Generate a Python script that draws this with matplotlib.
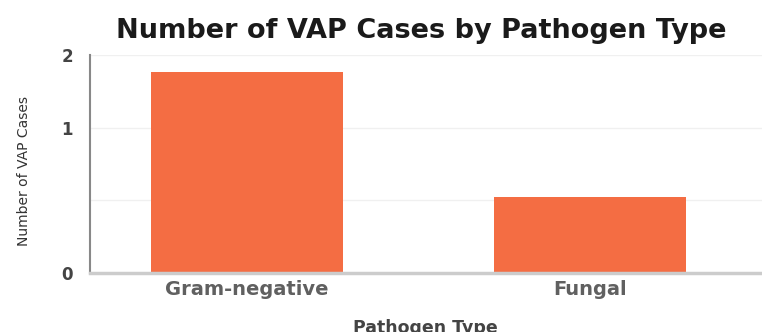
import matplotlib.pyplot as plt

# ---------------------------------------------------------------------------
# Data
# ---------------------------------------------------------------------------
categories = ['Gram-negative', 'Fungal']
cases = [1.38, 0.52]

y_ticks = [0, 0.5, 1, 1.5]
y_tick_labels = ['0', '', '1', '2']

BAR_COLOR = '#f46d43'
TEXT_COLOR = '#606060'

# ---------------------------------------------------------------------------
# Figure
# ---------------------------------------------------------------------------
W, H = 762, 332
fig = plt.figure(figsize=(W / 100, H / 100), dpi=100)
ax = fig.add_axes([89.5 / W, 59 / H, (W - 89.5) / W, 218 / H])

x = list(range(len(categories)))
ax.bar(x, cases, width=0.56, color=BAR_COLOR, zorder=2)

ax.set_xlim(-0.459, 1.501)
ax.set_ylim(0, 1.5)

ax.set_yticks(y_ticks)
ax.set_yticklabels(y_tick_labels, fontsize=12, fontweight='bold', color='#444444')
ax.set_xticks(x)
ax.set_xticklabels(categories, fontsize=14, fontweight='bold', color=TEXT_COLOR)
ax.tick_params(axis='both', length=0)
ax.tick_params(axis='y', pad=12)
ax.tick_params(axis='x', pad=5)

ax.grid(axis='y', color='#f0f0f0', linewidth=1, zorder=0)

for side in ('top', 'right'):
    ax.spines[side].set_visible(False)
ax.spines['left'].set_color('#888888')
ax.spines['left'].set_linewidth(1.5)
ax.spines['bottom'].set_color('#cccccc')
ax.spines['bottom'].set_linewidth(2.5)

ax.set_ylabel('Number of VAP Cases', fontsize=10, color='#333333')
ax.yaxis.set_label_coords(-58 / (W - 89.5), 0.47)
ax.set_xlabel('Pathogen Type', fontsize=12.5, fontweight='bold', color='#444444')
ax.xaxis.set_label_coords(0.5, -46 / 218)

fig.text(421 / W, 1 - 31 / H, 'Number of VAP Cases by Pathogen Type',
         ha='center', va='center', fontsize=19.5, fontweight='bold',
         color='#1a1a1a')

fig.savefig('out.png', dpi=100)
